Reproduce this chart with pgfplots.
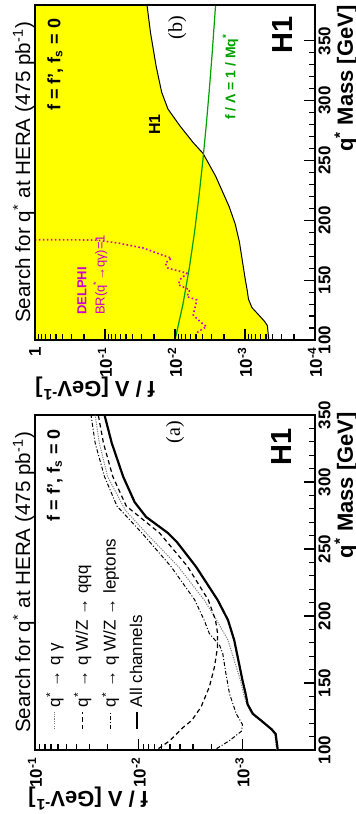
\documentclass[border=0pt]{standalone}
\usepackage{pgfplots}
\pgfplotsset{compat=1.18}
\usepackage{fontspec}
\setmainfont{Liberation Sans}
\newfontfamily\timesf{Liberation Serif}
\definecolor{dmag}{RGB}{204,0,204}
\definecolor{lgreen}{RGB}{0,160,0}
\definecolor{hyellow}{RGB}{255,255,0}

\begin{document}
\begin{tikzpicture}[rotate=90, transform shape]
\useasboundingbox (0,0) rectangle (407pt,178pt);

% ---------------- panel (a) ----------------
\begin{axis}[
    scale only axis, width=167.5pt, height=140pt,
    at={(32pt,20.5pt)}, anchor=south west,
    ymode=log,
    axis line style={line width=1pt},
    tick align=inside, xtick pos=left, ytick pos=left,
    major tick length=5.5pt, minor tick length=3pt,
    every tick/.style={black, line width=0.6pt},
    minor x tick num=4,
    xtick={100,150,200,250,300,350},
    xticklabels={100,150,200,250,300,350},
    xticklabel style={font=\bfseries\fontsize{8.5}{9}\selectfont, inner sep=1.5pt},
    yticklabel style={font=\bfseries\fontsize{8.5}{9}\selectfont},
    xlabel={q\textsuperscript{*} Mass [GeV]},
    ylabel={f / Λ [GeV\textsuperscript{-1}]},
    every axis x label/.style={at={(axis description cs:1.01,-0.068)}, anchor=north east, inner sep=0pt,
      font=\bfseries\fontsize{11}{12}\selectfont},
    every axis y label/.style={at={(axis description cs:-0.11,1.025)}, rotate=90, anchor=south east, inner sep=0pt,
      font=\bfseries\fontsize{11}{12}\selectfont},
    title={Search for q\textsuperscript{*} at HERA (475 pb\textsuperscript{-1})},
    every axis title/.style={at={(axis description cs:0.5,1.017)}, anchor=base, inner sep=0pt,
      font=\fontsize{10.3}{12}\selectfont},
  xmin=100, xmax=350, ymin=2e-4, ymax=0.1,
  ytick={1e-3,1e-2,1e-1},
  yticklabels={10\textsuperscript{-3},10\textsuperscript{-2},10\textsuperscript{-1}},
  legend style={draw=none, fill=none, at={(0.04,0.99)}, anchor=north west,
    font=\fontsize{8.5}{10}\selectfont, row sep=1.5pt,
    cells={anchor=west}},
  legend image code/.code={\draw[#1] (0pt,0pt) -- (8.5pt,0pt);},
]
\addplot[gray, line width=0.5pt, dash pattern=on 0.6pt off 0.6pt] coordinates {
(100,4.68e-4) (112,4.90e-4) (116,5.37e-4) (122,6.76e-4) (127,8.13e-4) (134,9.12e-4)
(142,9.77e-4) (152,1.047e-3) (167,1.202e-3) (182,1.380e-3) (197,1.778e-3) (212,2.344e-3)
(237,4.169e-3) (262,8.511e-3) (279,1.349e-2) (304,1.995e-2) (329,2.399e-2) (350,2.630e-2)};
\addlegendentry{q\textsuperscript{*} → q γ}
\addplot[black, line width=0.6pt, dash pattern=on 2.2pt off 1.6pt] coordinates {
(101,6.457e-3) (107,5.012e-3) (117,3.715e-3) (122,3.090e-3) (132,2.512e-3) (147,2.089e-3)
(162,1.862e-3) (177,1.738e-3) (187,1.738e-3) (197,1.820e-3) (212,2.138e-3) (237,3.388e-3)
(262,6.310e-3) (282,1.318e-2) (304,1.778e-2) (329,2.188e-2) (350,2.455e-2)};
\addlegendentry{q\textsuperscript{*} → q W/Z → qqq}
\addplot[black, line width=0.5pt, dash pattern=on 2pt off 1pt on 0.5pt off 1pt] coordinates {
(101,1.778e-3) (107,1.334e-3) (114,1.023e-3) (119,1.0e-3) (127,1.148e-3) (142,1.334e-3)
(157,1.445e-3) (172,1.549e-3) (178,1.660e-3) (187,2.089e-3) (197,2.344e-3) (212,2.884e-3)
(237,4.898e-3) (262,9.333e-3) (282,1.622e-2) (304,2.138e-2) (329,2.630e-2) (350,2.884e-2)};
\addlegendentry{q\textsuperscript{*} → q W/Z → leptons}
\addplot[black, line width=1.1pt] coordinates {
(100,4.57e-4) (112,4.79e-4) (115.5,5.25e-4) (122,6.61e-4) (127,7.94e-4) (134,8.91e-4)
(142,9.33e-4) (152,1.0e-3) (167,1.096e-3) (182,1.202e-3) (197,1.380e-3) (212,1.738e-3)
(237,2.818e-3) (255,4.266e-3) (262,5.248e-3) (274,8.511e-3) (285,1.096e-2) (304,1.413e-2)
(329,1.820e-2) (350,2.138e-2)};
\addlegendentry{All channels}
\node[font=\bfseries\fontsize{9}{10}\selectfont] at (axis cs:305,0.0646) {f = f', f\textsubscript{s} = 0};
\node[font=\timesf\fontsize{10}{11}\selectfont] at (axis cs:337,4.47e-3) {(a)};
\node[font=\bfseries\fontsize{14.5}{16}\selectfont] at (axis cs:326,4.17e-4) {H1};
\end{axis}

% ---------------- panel (b) ----------------
\begin{axis}[
    scale only axis, width=167.5pt, height=140pt,
    at={(237pt,20.5pt)}, anchor=south west,
    ymode=log, axis on top,
    axis line style={line width=1pt},
    tick align=inside, xtick pos=left, ytick pos=left,
    major tick length=5.5pt, minor tick length=3pt,
    every tick/.style={black, line width=0.6pt},
    minor x tick num=4,
    xtick={100,150,200,250,300,350},
    xticklabels={100,150,200,250,300,350},
    xticklabel style={font=\bfseries\fontsize{8.5}{9}\selectfont, inner sep=1.5pt},
    yticklabel style={font=\bfseries\fontsize{8.5}{9}\selectfont},
    xlabel={q\textsuperscript{*} Mass [GeV]},
    ylabel={f / Λ [GeV\textsuperscript{-1}]},
    every axis x label/.style={at={(axis description cs:1.0,-0.068)}, anchor=north east, inner sep=0pt,
      font=\bfseries\fontsize{11}{12}\selectfont},
    every axis y label/.style={at={(axis description cs:-0.11,1.0)}, rotate=90, anchor=south east, inner sep=0pt,
      font=\bfseries\fontsize{11}{12}\selectfont},
    title={Search for q\textsuperscript{*} at HERA (475 pb\textsuperscript{-1})},
    every axis title/.style={at={(axis description cs:0.5,1.017)}, anchor=base, inner sep=0pt,
      font=\fontsize{10.3}{12}\selectfont},
  xmin=100, xmax=380, ymin=1e-4, ymax=1,
  ytick={1e-4,1e-3,1e-2,1e-1,1},
  yticklabels={10\textsuperscript{-4},10\textsuperscript{-3},10\textsuperscript{-2},10\textsuperscript{-1},1},
]
\addplot[fill=hyellow, draw=none] coordinates {
(100,1) (100,4.57e-4) (112,4.79e-4) (115.5,5.25e-4) (122,6.61e-4) (127,7.94e-4) (134,8.91e-4)
(142,9.33e-4) (152,1.0e-3) (167,1.096e-3) (182,1.202e-3) (197,1.380e-3) (212,1.698e-3)
(237,2.630e-3) (256,3.981e-3) (265,5.495e-3) (279,8.511e-3) (293,1.259e-2) (307,1.549e-2)
(329,1.862e-2) (357,2.239e-2) (380,2.512e-2) (380,1)} -- cycle;
\addplot[black, line width=0.5pt] coordinates {
(100,4.57e-4) (112,4.79e-4) (115.5,5.25e-4) (122,6.61e-4) (127,7.94e-4) (134,8.91e-4)
(142,9.33e-4) (152,1.0e-3) (167,1.096e-3) (182,1.202e-3) (197,1.380e-3) (212,1.698e-3)
(237,2.630e-3) (256,3.981e-3) (265,5.495e-3) (279,8.511e-3) (293,1.259e-2) (307,1.549e-2)
(329,1.862e-2) (357,2.239e-2) (380,2.512e-2)};
\addplot[lgreen, line width=0.6pt] coordinates {
(100,0.01) (130,0.007692) (160,0.00625) (190,0.005263) (220,0.004545) (250,0.004)
(280,0.003571) (310,0.003226) (340,0.002941) (380,0.002632)};
\addplot[dmag, line width=0.8pt, dash pattern=on 0.8pt off 1.2pt] coordinates {
(100,4.898e-3) (102.8,5.129e-3) (107,4.677e-3) (111.1,3.548e-3) (115.3,4.365e-3) (120.9,5.495e-3)
(127.9,5.129e-3) (133.5,4.898e-3) (136.3,6.761e-3) (141.9,6.166e-3) (146.1,8.913e-3) (150.3,8.511e-3)
(155.9,6.761e-3) (160,1.259e-2) (164.2,1.380e-2) (168.4,1.122e-2) (171.2,1.549e-2) (176.8,2.818e-2)
(181,6.457e-2) (183.5,0.1318) (183.8,0.5) (183.8,1)};
\node[font=\bfseries\fontsize{9}{10}\selectfont] at (axis cs:330,0.513) {f = f', f\textsubscript{s} = 0};
\node[font=\timesf\fontsize{10}{11}\selectfont] at (axis cs:361,9.3e-3) {(b)};
\node[font=\bfseries\fontsize{14.5}{16}\selectfont] at (axis cs:355,2.9e-4) {H1};
\node[font=\bfseries\fontsize{8}{9}\selectfont] at (axis cs:280,0.0195) {H1};
\node[font=\bfseries\fontsize{7}{8}\selectfont, text=lgreen] at (axis cs:320,1.62e-3) {f / Λ = 1 / Mq\textsuperscript{*}};
\node[font=\bfseries\fontsize{6.5}{7.5}\selectfont, text=dmag, anchor=west] at (axis cs:115,0.214) {DELPHI};
\node[font=\fontsize{6.5}{7.5}\selectfont, text=dmag, anchor=west] at (axis cs:115,0.117) {BR(q\textsuperscript{*}→qγ)=1};
\end{axis}
\end{tikzpicture}
\end{document}
